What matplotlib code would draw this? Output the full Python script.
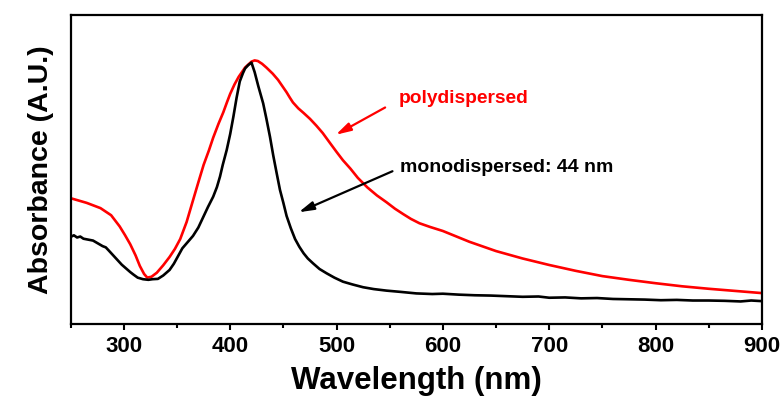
import matplotlib
matplotlib.use('Agg')
import matplotlib.pyplot as plt
from matplotlib.ticker import MultipleLocator

plt.rcParams['font.family'] = 'Liberation Sans'
plt.rcParams['font.weight'] = 'bold'

# polydispersed sample (red), arbitrary units
poly_wl = [250, 265, 278, 288, 296, 301, 306, 311, 315, 319, 322, 326, 331, 337, 343, 348,
           353, 359, 365, 370, 375, 380, 384, 389, 393.5, 397, 400, 404, 408, 414, 420, 423,
           426, 430, 434, 440, 445, 449, 453, 456, 459, 464, 469, 475, 481, 487, 494, 500,
           506, 513, 520, 529, 538, 547, 555, 563, 570, 578, 588, 600, 625, 650, 675, 700,
           725, 750, 775, 800, 825, 850, 875, 900]
poly_abs = [0.407, 0.392, 0.375, 0.352, 0.316, 0.288, 0.258, 0.222, 0.188, 0.162, 0.150, 0.153,
            0.166, 0.190, 0.217, 0.243, 0.275, 0.330, 0.400, 0.458, 0.515, 0.562, 0.603, 0.648,
            0.685, 0.718, 0.745, 0.775, 0.800, 0.830, 0.849, 0.853, 0.851, 0.842, 0.830, 0.810,
            0.790, 0.770, 0.750, 0.733, 0.717, 0.698, 0.683, 0.664, 0.642, 0.618, 0.585, 0.557,
            0.530, 0.503, 0.473, 0.442, 0.416, 0.394, 0.373, 0.355, 0.340, 0.326, 0.314, 0.301,
            0.266, 0.236, 0.212, 0.191, 0.172, 0.155, 0.143, 0.132, 0.122, 0.114, 0.107, 0.100]

# monodispersed 44 nm sample (black)
mono_wl = [250, 253, 256, 259, 262, 265, 268, 271, 274, 277, 280, 283, 286, 290, 294, 298,
           302, 306, 309, 313, 318, 323, 327, 332, 337, 343, 347, 351, 355, 360, 365, 370,
           374.5, 379, 384, 387.5, 390.4, 393, 396.7, 400, 403, 406, 409, 412, 414, 417, 420,
           423, 426.4, 431, 434, 437.4, 440.5, 443.7, 446.8, 450, 453, 457, 461, 465, 469, 473,
           478, 484, 490.7, 498, 506, 515, 525, 535, 547, 560, 575, 590, 600, 615, 630, 645,
           660, 675, 690, 700, 715, 730, 745, 760, 775, 790, 805, 820, 835, 850, 865, 880,
           890, 900]
mono_abs = [0.282, 0.287, 0.280, 0.283, 0.276, 0.274, 0.272, 0.270, 0.264, 0.258, 0.252, 0.248,
            0.237, 0.222, 0.207, 0.192, 0.180, 0.168, 0.160, 0.150, 0.145, 0.143, 0.145, 0.146,
            0.157, 0.175, 0.195, 0.220, 0.245, 0.265, 0.285, 0.312, 0.345, 0.378, 0.412, 0.443,
            0.477, 0.515, 0.563, 0.615, 0.671, 0.732, 0.785, 0.812, 0.827, 0.838, 0.846, 0.815,
            0.770, 0.714, 0.665, 0.606, 0.545, 0.488, 0.434, 0.392, 0.350, 0.310, 0.275, 0.250,
            0.229, 0.212, 0.196, 0.178, 0.164, 0.150, 0.137, 0.128, 0.119, 0.113, 0.108, 0.104,
            0.099, 0.097, 0.098, 0.095, 0.093, 0.092, 0.090, 0.088, 0.089, 0.085, 0.086, 0.083,
            0.084, 0.081, 0.080, 0.079, 0.077, 0.078, 0.076, 0.076, 0.075, 0.073, 0.076, 0.074]

fig = plt.figure(figsize=(7.83, 4.05), dpi=100)
ax = fig.add_axes([0.0903, 0.2, 0.8827, 0.763])

ax.plot(poly_wl, poly_abs, color='#ff0000', lw=1.9)
ax.plot(mono_wl, mono_abs, color='black', lw=1.9)

ax.set_xlim(250, 900)
ax.set_ylim(0, 1)
ax.xaxis.set_major_locator(MultipleLocator(100))
ax.xaxis.set_minor_locator(MultipleLocator(50))
ax.set_yticks([])
ax.tick_params(axis='x', which='both', direction='out', width=1.5, labelsize=16, pad=5)
ax.tick_params(axis='x', which='major', length=4)
ax.tick_params(axis='x', which='minor', length=3)
for s in ax.spines.values():
    s.set_linewidth(1.6)

ax.set_xlabel('Wavelength (nm)', fontsize=22.5, fontweight='bold', labelpad=6)
ax.set_ylabel('Absorbance (A.U.)', fontsize=20.5, fontweight='bold', labelpad=12)

ax.annotate('', xy=(497, 0.608), xytext=(548, 0.705),
            arrowprops=dict(arrowstyle='-|>,head_length=0.9,head_width=0.25', color='#ff0000', lw=1.6))
ax.text(558, 0.731, 'polydispersed', color='#ff0000', fontsize=13.8, fontweight='bold', va='center')

ax.annotate('', xy=(462, 0.358), xytext=(555, 0.498),
            arrowprops=dict(arrowstyle='-|>,head_length=0.9,head_width=0.25', color='black', lw=1.6))
ax.text(560, 0.505, 'monodispersed: 44 nm', color='black', fontsize=14, fontweight='bold', va='center')

fig.savefig('out.png', dpi=100)
